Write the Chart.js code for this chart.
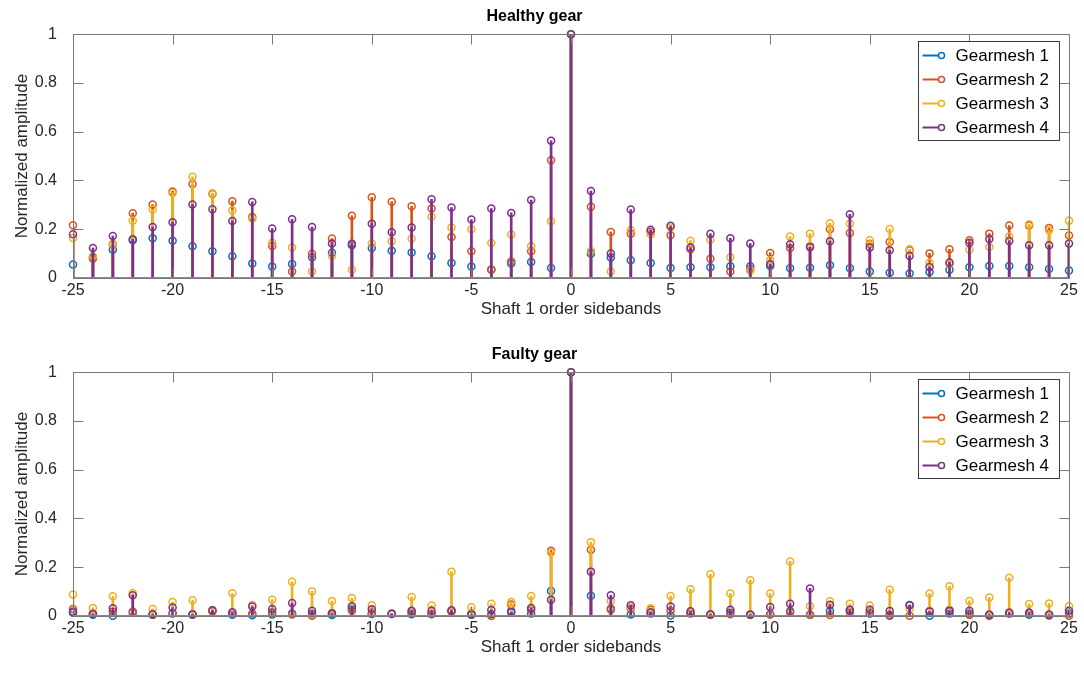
<!DOCTYPE html>
<html>
<head>
<meta charset="utf-8">
<script src="https://cdn.jsdelivr.net/npm/chart.js@4.4.1/dist/chart.umd.min.js"></script>
<style>
  html, body { margin: 0; padding: 0; background: #fff; }
  body { width: 1084px; height: 673px; position: relative; overflow: hidden; }
  canvas { position: absolute; left: 0; }
  #healthy { top: 0; }
  #faulty { top: 338px; }
</style>
</head>
<body>
<canvas id="healthy" width="1084" height="336"></canvas>
<canvas id="faulty" width="1084" height="336"></canvas>
<script>
// shaft 1 order sidebands (x axis)
const orders = [-25, -24, -23, -22, -21, -20, -19, -18, -17, -16, -15, -14, -13, -12, -11, -10, -9, -8, -7, -6, -5, -4, -3, -2, -1,
    0, 1, 2, 3, 4, 5, 6, 7, 8, 9, 10, 11, 12, 13, 14, 15, 16, 17, 18, 19, 20, 21, 22, 23, 24, 25];
const xTickLabels = ["-25", "-20", "-15", "-10", "-5", "0", "5", "10", "15", "20", "25"];
const yTickLabels = ["0", "0.2", "0.4", "0.6", "0.8", "1"];
const seriesNames = ["Gearmesh 1", "Gearmesh 2", "Gearmesh 3", "Gearmesh 4"];
const seriesColors = ["#0072BD", "#D95319", "#EDB120", "#7E2F8E"];

// Healthy gear
const healthy1 = [0.055, 0.085, 0.116, 0.155, 0.163, 0.153, 0.130, 0.110, 0.089, 0.059, 0.047, 0.057, 0.085, 0.104, 0.134, 0.123, 0.112, 0.105, 0.089, 0.062, 0.047, 0.035, 0.059, 0.066, 0.041,
    1, 0.100, 0.084, 0.073, 0.062, 0.041, 0.044, 0.044, 0.048, 0.048, 0.049, 0.040, 0.042, 0.052, 0.040, 0.027, 0.022, 0.018, 0.025, 0.034, 0.044, 0.049, 0.049, 0.044, 0.037, 0.031];
const healthy2 = [0.216, 0.079, 0.137, 0.266, 0.301, 0.355, 0.386, 0.345, 0.315, 0.250, 0.131, 0.027, 0.099, 0.162, 0.255, 0.331, 0.313, 0.294, 0.285, 0.168, 0.110, 0.034, 0.068, 0.110, 0.483,
    1, 0.292, 0.189, 0.182, 0.190, 0.175, 0.118, 0.079, 0.027, 0.038, 0.103, 0.123, 0.130, 0.200, 0.185, 0.140, 0.148, 0.114, 0.101, 0.118, 0.155, 0.182, 0.215, 0.215, 0.205, 0.174];
const healthy3 = [0.164, 0.089, 0.140, 0.235, 0.281, 0.349, 0.415, 0.348, 0.278, 0.244, 0.145, 0.125, 0.027, 0.090, 0.034, 0.142, 0.151, 0.162, 0.251, 0.207, 0.200, 0.144, 0.178, 0.131, 0.233,
    1, 0.111, 0.027, 0.196, 0.178, 0.207, 0.153, 0.157, 0.085, 0.030, 0.073, 0.170, 0.182, 0.225, 0.223, 0.155, 0.201, 0.118, 0.063, 0.056, 0.116, 0.127, 0.170, 0.220, 0.196, 0.235];
const healthy4 = [0.179, 0.123, 0.172, 0.159, 0.209, 0.229, 0.301, 0.282, 0.234, 0.312, 0.203, 0.241, 0.209, 0.142, 0.140, 0.223, 0.188, 0.207, 0.323, 0.289, 0.240, 0.285, 0.267, 0.320, 0.563,
    1, 0.357, 0.100, 0.281, 0.198, 0.214, 0.125, 0.181, 0.163, 0.141, 0.056, 0.138, 0.126, 0.151, 0.261, 0.125, 0.114, 0.090, 0.045, 0.064, 0.145, 0.160, 0.152, 0.134, 0.134, 0.141];

// Faulty gear
const faulty1 = [0.013, 0.005, 0.001, 0.013, 0.005, 0.010, 0.005, 0.020, 0.005, 0.003, 0.006, 0.010, 0.010, 0.004, 0.030, 0.008, 0.010, 0.007, 0.007, 0.020, 0.005, 0.007, 0.020, 0.010, 0.103,
    1, 0.083, 0.030, 0.006, 0.010, 0.002, 0.010, 0.005, 0.015, 0.005, 0.007, 0.020, 0.005, 0.020, 0.020, 0.010, 0.001, 0.045, 0.001, 0.010, 0.010, 0.001, 0.010, 0.005, 0.002, 0.010];
const faulty2 = [0.029, 0.010, 0.018, 0.018, 0.005, 0.012, 0.005, 0.020, 0.008, 0.010, 0.015, 0.006, 0.001, 0.012, 0.022, 0.012, 0.010, 0.015, 0.008, 0.018, 0.010, 0.000, 0.047, 0.025, 0.268,
    1, 0.272, 0.026, 0.030, 0.026, 0.022, 0.011, 0.005, 0.007, 0.004, 0.006, 0.015, 0.004, 0.004, 0.015, 0.012, 0.005, 0.001, 0.020, 0.025, 0.004, 0.003, 0.010, 0.010, 0.003, 0.001];
const faulty3 = [0.088, 0.033, 0.081, 0.094, 0.029, 0.057, 0.065, 0.025, 0.093, 0.045, 0.067, 0.140, 0.101, 0.061, 0.074, 0.044, 0.010, 0.078, 0.043, 0.182, 0.036, 0.050, 0.057, 0.082, 0.260,
    1, 0.303, 0.061, 0.036, 0.032, 0.082, 0.110, 0.171, 0.092, 0.147, 0.092, 0.224, 0.040, 0.060, 0.050, 0.043, 0.108, 0.030, 0.092, 0.122, 0.062, 0.076, 0.157, 0.049, 0.051, 0.040];
const faulty4 = [0.018, 0.008, 0.032, 0.085, 0.007, 0.035, 0.007, 0.024, 0.015, 0.039, 0.029, 0.053, 0.022, 0.010, 0.040, 0.028, 0.008, 0.022, 0.022, 0.024, 0.006, 0.025, 0.015, 0.033, 0.067,
    1, 0.182, 0.085, 0.044, 0.015, 0.039, 0.019, 0.007, 0.026, 0.006, 0.037, 0.050, 0.113, 0.046, 0.026, 0.026, 0.021, 0.044, 0.018, 0.021, 0.022, 0.006, 0.014, 0.014, 0.006, 0.022];

const FONT = "'Liberation Sans', Arial, Helvetica, sans-serif";
const TEXT = "#262626";
const AXIS = "#7a7a7a";

// plot box, inward ticks and the legend, MATLAB style
const matlabAxes = {
    id: "matlabAxes",
    afterDraw(chart) {
        const ctx = chart.ctx;
        const { left, right, top, bottom } = chart.chartArea;
        const L = Math.round(left) + 0.5, R = Math.round(right) + 0.5;
        const T = Math.round(top) + 0.5, B = Math.round(bottom) + 0.5;
        ctx.save();
        ctx.strokeStyle = AXIS;
        ctx.lineWidth = 1;
        ctx.strokeRect(L, T, R - L, B - T);
        ctx.beginPath();
        chart.scales.x.ticks.forEach((t) => {
            const px = Math.round(chart.scales.x.getPixelForValue(t.value)) + 0.5;
            ctx.moveTo(px, B); ctx.lineTo(px, B - 10);
            ctx.moveTo(px, T); ctx.lineTo(px, T + 10);
        });
        chart.scales.y.ticks.forEach((t) => {
            const py = Math.round(chart.scales.y.getPixelForValue(t.value)) + 0.5;
            ctx.moveTo(L, py); ctx.lineTo(L + 10, py);
            ctx.moveTo(R, py); ctx.lineTo(R - 10, py);
        });
        ctx.stroke();
        // baseline of the stems
        ctx.strokeStyle = "#8a8a8a";
        ctx.beginPath();
        ctx.moveTo(L, B - 1); ctx.lineTo(R, B - 1);
        ctx.stroke();

        // legend box
        const bx = 918.5, by = T + 7, bw = 141, bh = 99;
        ctx.fillStyle = "#fff";
        ctx.fillRect(bx, by, bw, bh);
        ctx.strokeStyle = "#3a3a3a";
        ctx.strokeRect(bx, by, bw, bh);
        ctx.font = "17px " + FONT;
        ctx.textBaseline = "middle";
        seriesNames.forEach((name, i) => {
            const yy = by + 14 + i * 24;
            ctx.strokeStyle = seriesColors[i];
            ctx.lineWidth = 2;
            ctx.beginPath();
            ctx.moveTo(bx + 4, yy); ctx.lineTo(bx + 20, yy);
            ctx.stroke();
            ctx.lineWidth = 1.5;
            ctx.beginPath();
            ctx.arc(bx + 23, yy, 3, 0, Math.PI * 2);
            ctx.stroke();
            ctx.fillStyle = "#000";
            ctx.fillText(name, bx + 37, yy + 1);
        });
        ctx.restore();
    },
};

function makeStemChart(canvasId, title, values) {
    const datasets = [];
    values.forEach((vals, i) => {
        const pts = orders.map((x, k) => ({ x: x, y: vals[k] }));
        datasets.push({
            type: "bar",
            label: seriesNames[i],
            data: pts,
            backgroundColor: seriesColors[i],
            borderWidth: 0,
            barThickness: 2,
            grouped: false,
            order: 7 - 2 * i,
        });
        datasets.push({
            type: "scatter",
            label: seriesNames[i] + " marker",
            data: pts,
            showLine: false,
            pointStyle: "circle",
            pointRadius: 3.5,
            pointBorderWidth: 1.5,
            pointBorderColor: seriesColors[i],
            pointBackgroundColor: "rgba(0,0,0,0)",
            clip: false,
            order: 6 - 2 * i,
        });
    });

    return new Chart(document.getElementById(canvasId), {
        type: "scatter",
        data: { datasets },
        options: {
            responsive: false,
            animation: false,
            events: [],
            layout: { padding: { top: 0, left: 0, right: 15, bottom: 0 } },
            plugins: {
                legend: { display: false },
                tooltip: { enabled: false },
                title: {
                    display: true,
                    text: title,
                    color: "#000",
                    font: { family: FONT, size: 16, weight: "bold" },
                    padding: { top: 7, bottom: 8 },
                },
            },
            scales: {
                x: {
                    type: "linear",
                    min: -25,
                    max: 25,
                    offset: false,
                    grid: { display: false, drawTicks: false },
                    border: { display: false },
                    ticks: {
                        stepSize: 5,
                        autoSkip: false,
                        maxRotation: 0,
                        padding: 3,
                        color: TEXT,
                        font: { family: FONT, size: 16 },
                        callback: (v, idx) => xTickLabels[idx],
                    },
                    title: {
                        display: true,
                        text: "Shaft 1 order sidebands",
                        color: TEXT,
                        font: { family: FONT, size: 17 },
                        padding: { top: 0, bottom: 16 },
                    },
                    afterFit: (scale) => { scale.height = 58; },
                },
                y: {
                    min: 0,
                    max: 1,
                    grid: { display: false, drawTicks: false },
                    border: { display: false },
                    ticks: {
                        stepSize: 0.2,
                        padding: 16,
                        color: TEXT,
                        font: { family: FONT, size: 16 },
                        callback: (v, idx) => yTickLabels[idx],
                    },
                    title: {
                        display: true,
                        text: "Normalized amplitude",
                        color: TEXT,
                        font: { family: FONT, size: 17 },
                        padding: { top: 12, bottom: 0 },
                    },
                    afterFit: (scale) => { scale.width = 73; },
                },
            },
        },
        plugins: [matlabAxes],
    });
}

makeStemChart("healthy", "Healthy gear", [healthy1, healthy2, healthy3, healthy4]);
makeStemChart("faulty", "Faulty gear", [faulty1, faulty2, faulty3, faulty4]);
</script>
</body>
</html>
